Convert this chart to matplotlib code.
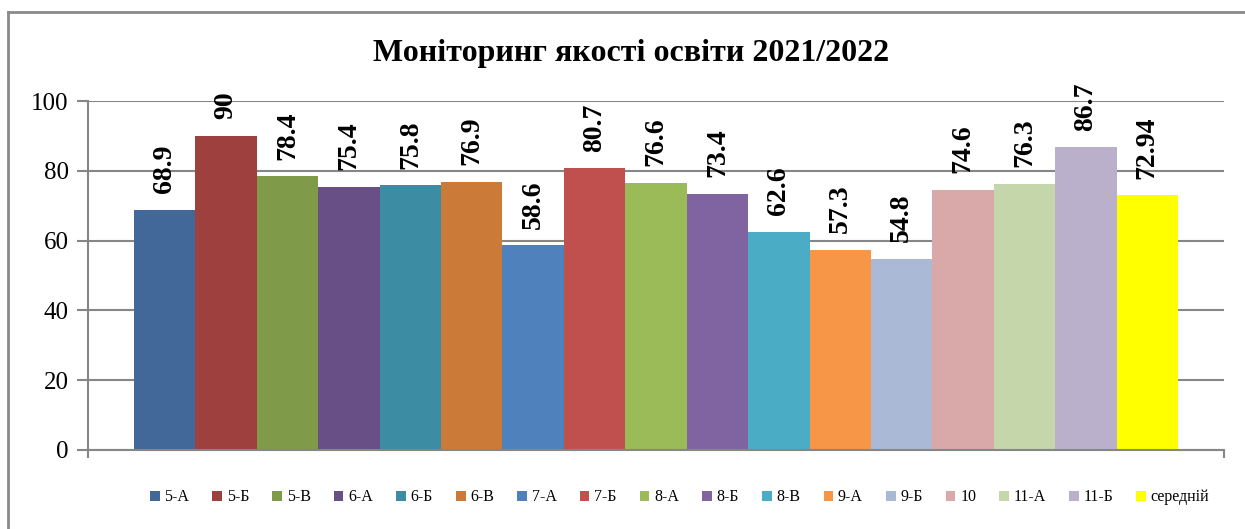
import matplotlib.pyplot as plt
from matplotlib.lines import Line2D

# Дані
classes = ["5-А", "5-Б", "5-В", "6-А", "6-Б", "6-В", "7-А", "7-Б", "8-А",
           "8-Б", "8-В", "9-А", "9-Б", "10", "11-А", "11-Б", "середній"]
values = [68.9, 90, 78.4, 75.4, 75.8, 76.9, 58.6, 80.7, 76.6,
          73.4, 62.6, 57.3, 54.8, 74.6, 76.3, 86.7, 72.94]
colors = ["#416899", "#9E403D", "#7F9A48", "#684F86", "#3C8DA3", "#CC7A37",
          "#4F81BD", "#C0504D", "#9BBB59", "#8064A2", "#4BACC6", "#F79646",
          "#A9B9D6", "#D9A8A8", "#C5D6AA", "#BAB0CB", "#FFFF00"]
yticks = [0, 20, 40, 60, 80, 100]

plt.rcParams['font.family'] = ['Liberation Serif', 'DejaVu Serif']

fig = plt.figure(figsize=(12.45, 5.29), dpi=100)
ax = fig.add_axes([88 / 1245, 79 / 529, (1224 - 88) / 1245, 349 / 529])

grey = "#868686"
x = list(range(len(values)))
bars = ax.bar(x, values, width=1.0, color=colors, label=classes, zorder=2)

for xi, v in zip(x, values):
    ax.annotate(f"{v:g}", (xi, v), xytext=(0, 12), textcoords="offset points",
                rotation=90, ha="center", va="bottom", fontsize=20,
                fontweight="bold", zorder=3)

ax.set_ylim(0, 100)
ax.set_xlim(-1.25, len(values) + 0.25)
ax.set_yticks(yticks)
ax.set_xticks([-1.25, len(values) + 0.25])
ax.set_xticklabels(["", ""])
ax.tick_params(axis="y", labelsize=18, length=8, width=1.5, color=grey, pad=6)
ax.tick_params(axis="x", length=6, width=1.5, color=grey)
ax.grid(axis="y", color=grey, linewidth=1.5, zorder=0)
for side in ["top", "right"]:
    ax.spines[side].set_visible(False)
for side in ["left", "bottom"]:
    ax.spines[side].set_color(grey)
    ax.spines[side].set_linewidth(1.5)

fig.text(0.507, 0.898, "Моніторинг якості освіти 2021/2022", ha="center",
         va="center", fontsize=23, fontweight="bold")

fig.legend(handles=bars, labels=classes, loc="center", ncol=17,
           bbox_to_anchor=(0.546, 0.06), frameon=False, fontsize=11.5,
           handlelength=0.6, handleheight=0.6, handletextpad=0.3,
           columnspacing=1.45)

# рамка діаграми
fig.add_artist(Line2D([8 / 1245, 8 / 1245], [0, 1 - 12 / 529],
                      transform=fig.transFigure, color="#8a8a8a", linewidth=2))
fig.add_artist(Line2D([8 / 1245, 1], [1 - 12 / 529, 1 - 12 / 529],
                      transform=fig.transFigure, color="#8a8a8a", linewidth=2))

fig.savefig("out.png", dpi=100)
